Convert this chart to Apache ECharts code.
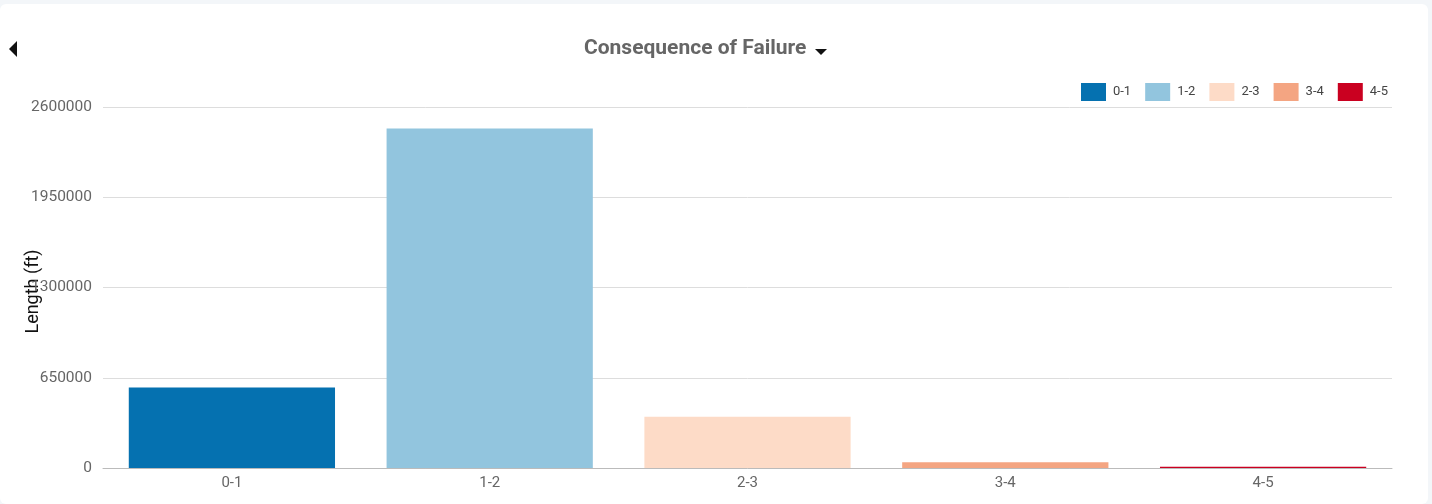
<!DOCTYPE html>
<html lang="en">

<head>
    <meta charset="UTF-8">
    <title>Consequence of Failure</title>
    <script src="https://cdn.jsdelivr.net/npm/echarts@6/dist/echarts.min.js"></script>
    <style>
        body {
            margin: 0;
            background: #f3f6f9;
        }

        #app {
            position: absolute;
            left: 0;
            top: 4px;
            width: 1428px;
            height: 500px;
            background: #fff;
            border-radius: 6px;
        }
    </style>
</head>

<body>
    <div id="app"></div>
    <script>
        // data
        let categories = ['0-1', '1-2', '2-3', '3-4', '4-5']
        let lengths = [580000, 2445000, 369000, 41000, 9000]
        let colors = ['#0571b0', '#92c5de', '#fddbc7', '#f4a582', '#ca0020']
        let yTicks = [0, 650000, 1300000, 1950000, 2600000]

        let mCharts = echarts.init(document.getElementById('app'))

        // one series per class so the legend shows each one
        let series = categories.map((c, i) => ({
            name: c,
            type: 'bar',
            stack: 'total',
            barWidth: '80%',
            itemStyle: { color: colors[i] },
            data: categories.map((_, j) => j === i ? lengths[i] : '-')
        }))

        let option = {
            animation: false,
            title: {
                text: 'Consequence of Failure',
                left: 579,
                top: 29,
                textStyle: { fontSize: 21, fontWeight: 'bold', color: '#666', fontFamily: 'Roboto' }
            },
            graphic: [
                // back arrow
                { type: 'polygon', shape: { points: [[17, 37], [17, 53], [9, 45]] }, style: { fill: '#111' } },
                // dropdown caret
                { type: 'polygon', shape: { points: [[815, 45], [827, 45], [821, 51]] }, style: { fill: '#111' } }
            ],
            legend: {
                right: 35,
                top: 74,
                icon: 'rect',
                itemWidth: 25,
                itemHeight: 18,
                itemGap: 14,
                textStyle: { color: '#444', fontSize: 13, fontFamily: 'Roboto', padding: [0, 0, 0, 2] },
                data: categories
            },
            grid: { left: 103, right: 36, top: 103, bottom: 36, outerBoundsMode: 'none', containLabel: false },
            xAxis: {
                type: 'category',
                data: categories,
                axisLine: { lineStyle: { color: '#bbb' } },
                axisTick: { alignWithLabel: true, length: 5, lineStyle: { color: '#999' } },
                axisLabel: { color: '#666', fontSize: 15, margin: 8, fontFamily: 'Roboto' }
            },
            yAxis: {
                type: 'value',
                min: yTicks[0],
                max: yTicks[yTicks.length - 1],
                interval: yTicks[1] - yTicks[0],
                name: 'Length (ft)',
                nameLocation: 'middle',
                nameGap: 61,
                nameMoveOverlap: false,
                nameTextStyle: { color: '#111', fontSize: 18, fontFamily: 'Roboto', padding: [0, 8, 0, 0] },
                axisLabel: {
                    color: '#666', fontSize: 15.5, margin: 11, fontFamily: 'Roboto',
                    formatter: v => String(v)
                },
                splitLine: { lineStyle: { color: '#ddd' } }
            },
            series: series
        }
        mCharts.setOption(option)
    </script>
</body>

</html>
